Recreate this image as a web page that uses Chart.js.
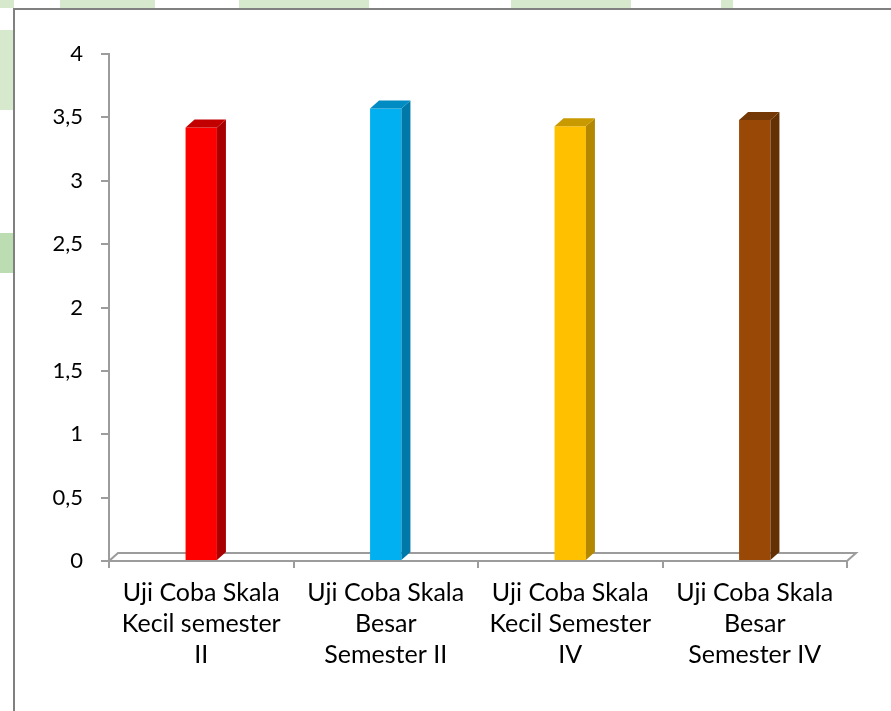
<!DOCTYPE html>
<html>
<head>
<meta charset="utf-8">
<script src="https://cdn.jsdelivr.net/npm/chart.js@4/dist/chart.umd.min.js"></script>
<style>
  html, body { margin: 0; padding: 0; width: 891px; height: 711px; overflow: hidden; background: #fff; position: relative; }
  .leaf { position: absolute; background: #d6e9cc; }
  #frame { position: absolute; left: 13px; top: 8px; width: 900px; height: 720px;
           border-left: 2px solid #808080; border-top: 2px solid #808080; background: #fff; }
  #chart { position: absolute; left: 0; top: 0; }
</style>
</head>
<body>
<!-- soft green backdrop showing around the chart frame -->
<div class="leaf" style="left:0;top:0;width:14px;height:8px"></div>
<div class="leaf" style="left:60px;top:0;width:95px;height:8px"></div>
<div class="leaf" style="left:239px;top:0;width:130px;height:8px"></div>
<div class="leaf" style="left:511px;top:0;width:120px;height:8px"></div>
<div class="leaf" style="left:721px;top:0;width:12px;height:8px"></div>
<div class="leaf" style="left:0;top:30px;width:13px;height:80px"></div>
<div class="leaf" style="left:0;top:233px;width:13px;height:40px;background:#bcdcb2"></div>
<div id="frame"></div>
<canvas id="chart" width="891" height="711"></canvas>
<script>
// Mean scores per trial group
const categories = [
  ['Uji Coba Skala', 'Kecil semester', 'II'],
  ['Uji Coba Skala', 'Besar', 'Semester II'],
  ['Uji Coba Skala', 'Kecil Semester', 'IV'],
  ['Uji Coba Skala', 'Besar', 'Semester IV']
];
const scores = [3.42, 3.57, 3.43, 3.48];
const yTickValues = [0, 0.5, 1, 1.5, 2, 2.5, 3, 3.5, 4];

// face colours for the 3-D columns
const frontColors = ['#ff0000', '#00b0f0', '#ffc000', '#9a4806'];
const sideColors  = ['#a80000', '#0079a8', '#b38700', '#633004'];
const topColors   = ['#c20000', '#008cc2', '#c99a00', '#733805'];

const DEPTH_X = 9, DEPTH_Y = 8;
const axisGray = '#9c9c9c';

// draws the floor plane of the 3-D plot
const floorPlugin = {
  id: 'floor',
  beforeDatasetsDraw(chart) {
    const { ctx, chartArea } = chart;
    const y0 = chart.scales.y.getPixelForValue(0);
    ctx.save();
    ctx.strokeStyle = axisGray;
    ctx.lineWidth = 2;
    ctx.beginPath();
    ctx.moveTo(chartArea.left, y0);
    ctx.lineTo(chartArea.left + DEPTH_X, y0 - DEPTH_Y);
    ctx.lineTo(chartArea.right + DEPTH_X, y0 - DEPTH_Y);
    ctx.lineTo(chartArea.right, y0);
    ctx.stroke();
    ctx.restore();
  }
};

// adds the side and top faces to every column
const depthPlugin = {
  id: 'depth',
  afterDatasetsDraw(chart) {
    const { ctx } = chart;
    const meta = chart.getDatasetMeta(0);
    meta.data.forEach((bar, i) => {
      const { x, y, base, width } = bar.getProps(['x', 'y', 'base', 'width'], true);
      const l = x - width / 2, r = x + width / 2;
      ctx.save();
      ctx.fillStyle = sideColors[i];
      ctx.beginPath();
      ctx.moveTo(r, y);
      ctx.lineTo(r + DEPTH_X, y - DEPTH_Y);
      ctx.lineTo(r + DEPTH_X, base - DEPTH_Y);
      ctx.lineTo(r, base);
      ctx.closePath();
      ctx.fill();
      ctx.fillStyle = topColors[i];
      ctx.beginPath();
      ctx.moveTo(l, y);
      ctx.lineTo(l + DEPTH_X, y - DEPTH_Y);
      ctx.lineTo(r + DEPTH_X, y - DEPTH_Y);
      ctx.lineTo(r, y);
      ctx.closePath();
      ctx.fill();
      ctx.restore();
    });
  }
};

const fontFamily = 'Lato, "Open Sans", sans-serif';

new Chart(document.getElementById('chart'), {
  type: 'bar',
  data: {
    labels: categories,
    datasets: [{
      data: scores,
      backgroundColor: frontColors,
      borderWidth: 0,
      categoryPercentage: 1,
      barPercentage: 0.17
    }]
  },
  options: {
    responsive: false,
    animation: false,
    layout: { padding: { left: 0, top: 54, right: 44, bottom: 0 } },
    plugins: { legend: { display: false }, tooltip: { enabled: false } },
    scales: {
      x: {
        grid: { offset: true, drawOnChartArea: false, drawTicks: true, tickLength: 7, color: axisGray, lineWidth: 2 },
        border: { display: true, color: axisGray, width: 2 },
        ticks: { color: '#000', font: { family: fontFamily, size: 25, lineHeight: 1.25 }, padding: 9, maxRotation: 0, autoSkip: false },
        afterFit(s) { s.height = 150; }
      },
      y: {
        min: 0, max: 4,
        afterBuildTicks(s) { s.ticks = yTickValues.map(v => ({ value: v })); },
        grid: { drawOnChartArea: false, drawTicks: true, tickLength: 8, color: axisGray, lineWidth: 2 },
        border: { display: true, color: axisGray, width: 2 },
        ticks: { color: '#000', font: { family: fontFamily, size: 22 }, padding: 18,
                 callback: v => String(v).replace('.', ',') },
        afterFit(s) { s.width = 109; }
      }
    }
  },
  plugins: [floorPlugin, depthPlugin]
});
</script>
</body>
</html>
